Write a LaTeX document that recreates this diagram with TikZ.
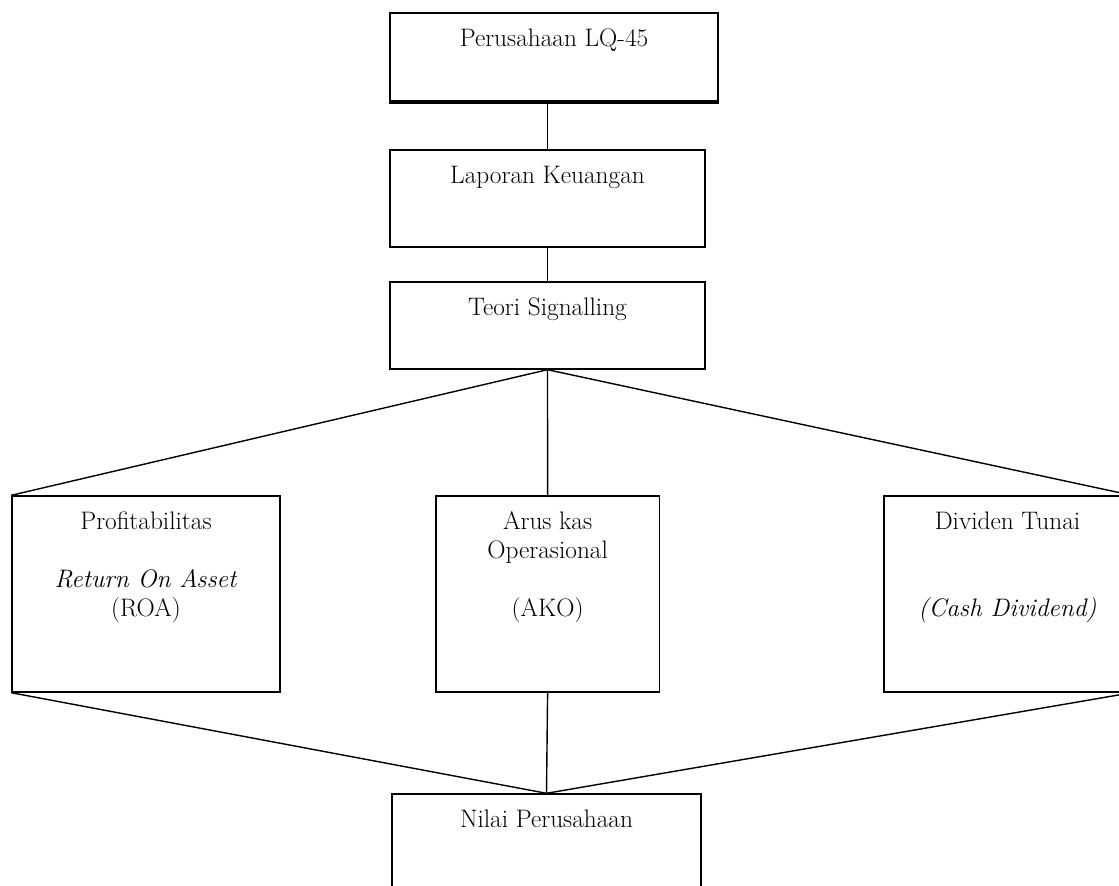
\documentclass[tikz,border=0pt]{standalone}
\usepackage{tikz}
\usetikzlibrary{positioning}

\begin{document}
\begin{tikzpicture}[box/.style={draw, line width=1pt, inner sep=0pt},
	txt/.style={inner sep=0pt, align=center, font=\fontsize{18}{20.6}\selectfont}]
			\useasboundingbox (0,0) rectangle (27.975,-22.15);
\clip (0,0) rectangle (27.975,-22.15);

\coordinate (lqpos) at (13.85, -1.425);
\coordinate (lappos) at (13.6875, -4.9625);
\coordinate (teopos) at (13.6875, -8.1375);
\coordinate (profpos) at (3.65, -14.85);
\coordinate (akopos) at (13.69, -14.85);
\coordinate (divpos) at (25.1875, -14.85);
\coordinate (nilpos) at (13.6625, -21.3);

\node(lq)[box, line width=1.4pt, minimum width=8.2cm, minimum height=2.2cm] at (lqpos) {};
\node(lap)[box, minimum width=7.875cm, minimum height=2.425cm] at (lappos) {};
\node(teo)[box, minimum width=7.875cm, minimum height=2.175cm] at (teopos) {};
\node(prof)[box, minimum width=6.7cm, minimum height=4.9cm] at (profpos) {};
\node(ako)[box, minimum width=5.59cm, minimum height=4.9cm] at (akopos) {};
\node(div)[box, minimum width=6.175cm, minimum height=4.9cm] at (divpos) {};
\node(nil)[box, minimum width=7.725cm, minimum height=2.9cm] at (nilpos) {};

% thick lower edge of the top box
\draw[line width=2.4pt] (lq.south west) -- (lq.south east);

\node(lqtext)[txt, below=0.41cm of lq.north] {Perusahaan LQ-45};
\node(laptext)[txt, below=0.41cm of lap.north] {Laporan Keuangan};
\node(teotext)[txt, below=0.41cm of teo.north] {Teori Signalling};
\node(proftext)[txt, below=0.41cm of prof.north] {Profitabilitas\\[20.6pt]\textit{Return On Asset}\\(ROA)};
\node(akotext)[txt, below=0.41cm of ako.north] {Arus kas\\Operasional\\[20.6pt](AKO)};
\node(divtext)[txt, below=0.41cm of div.north] {Dividen Tunai\\[41.2pt]\textit{(Cash Dividend)}};
\node(niltext)[txt, below=0.41cm of nil.north] {Nilai Perusahaan};

\draw[line width=1pt] (lq.south -| lap.north) -- (lap.north);
\draw[line width=1pt] (lap.south) -- (teo.north);
\draw[line width=1pt] (teo.south) -- (prof.north west);
\draw[line width=1pt] (teo.south) -- (ako.north);
\draw[line width=1pt] (teo.south) -- (div.north east);
\draw[line width=1pt] (prof.south west) -- (nil.north);
\draw[line width=1pt] (ako.south) -- (nil.north);
\draw[line width=1pt] (div.south east) -- (nil.north);
		\end{tikzpicture}
\end{document}
